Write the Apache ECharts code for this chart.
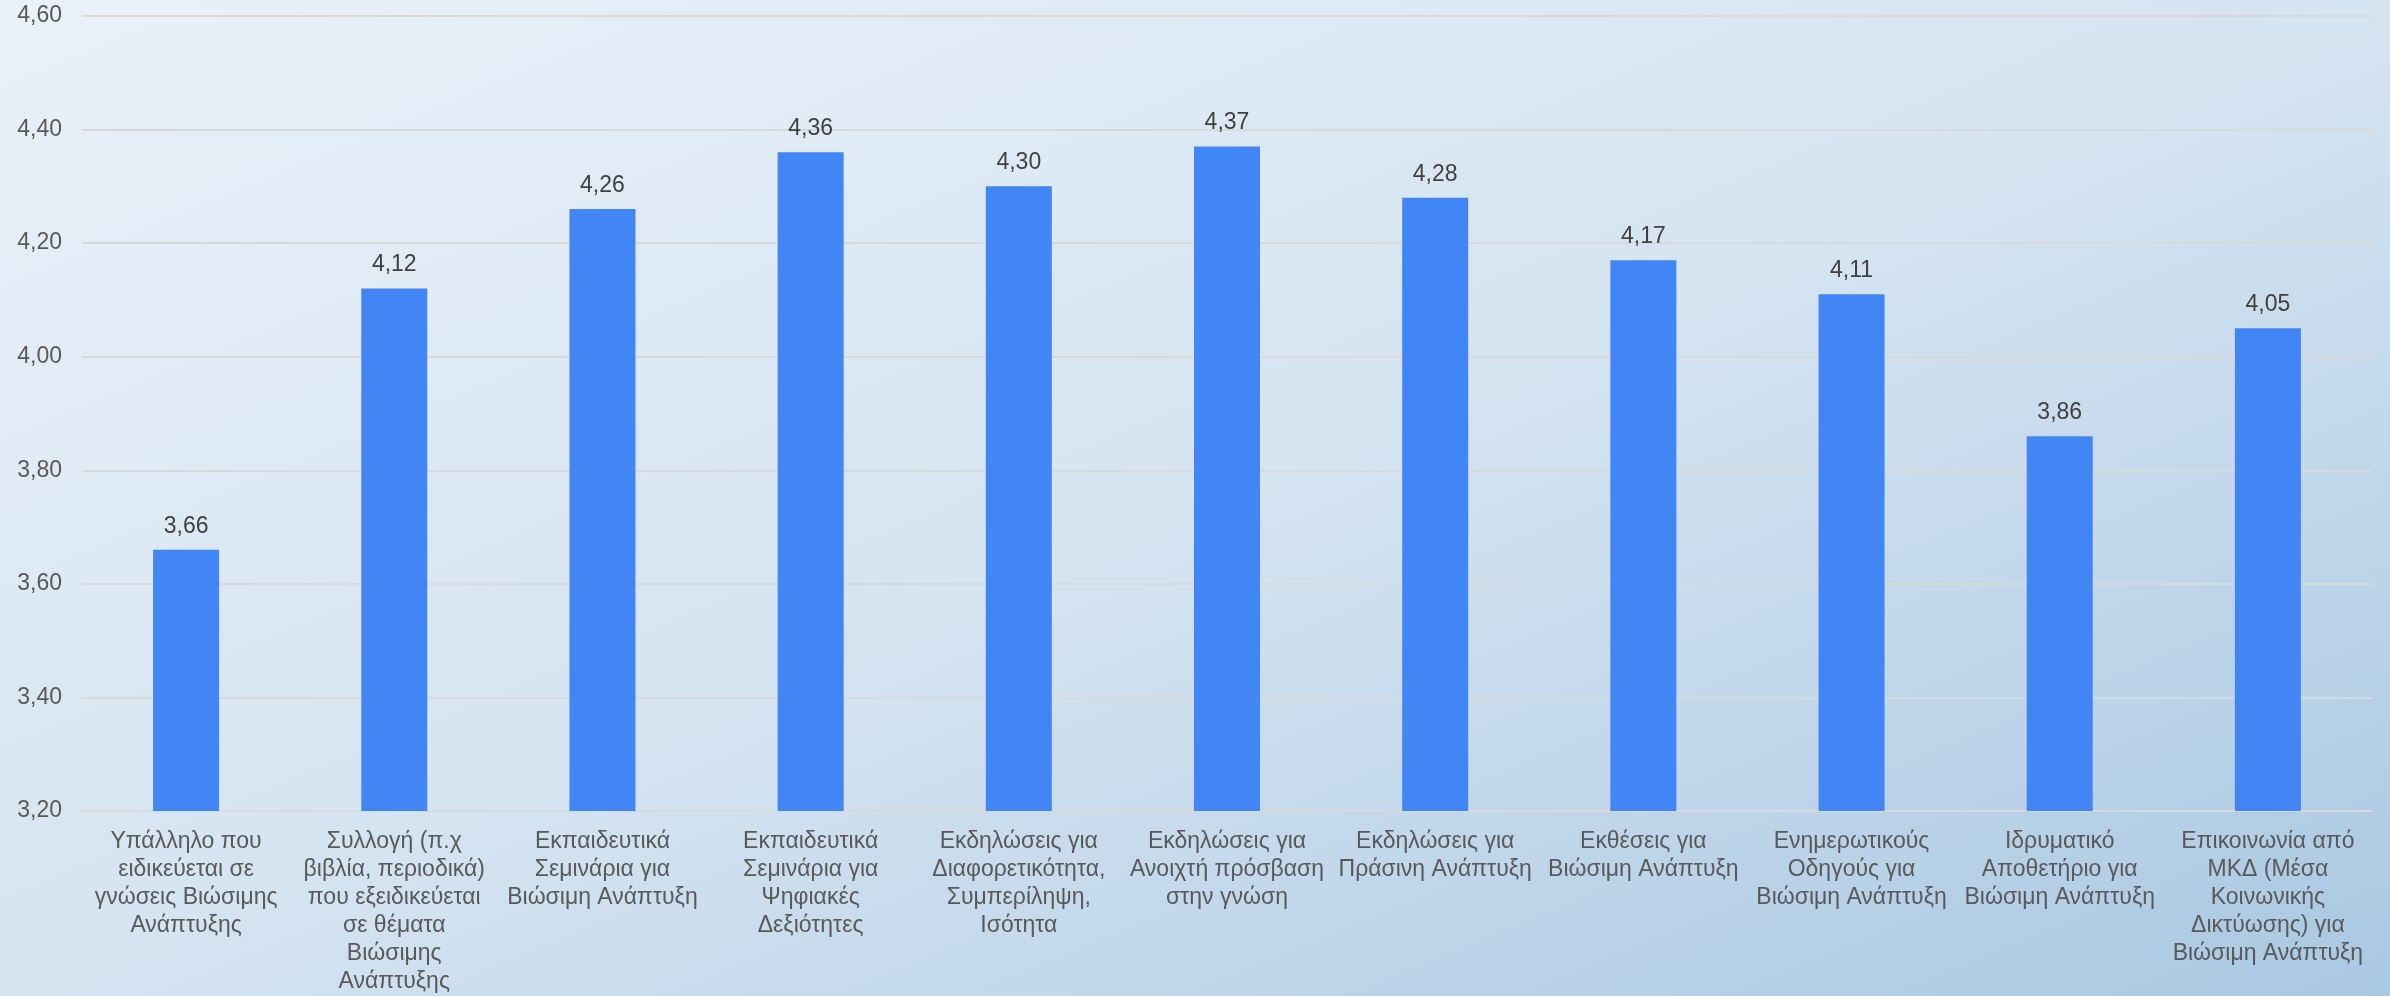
<!DOCTYPE html>
<html>
<head>
<meta charset="utf-8">
<script src="https://cdn.jsdelivr.net/npm/echarts@6/dist/echarts.min.js"></script>
<style>
  html, body { margin: 0; padding: 0; width: 2390px; height: 996px; overflow: hidden; }
  #chart { width: 2390px; height: 996px; background: linear-gradient(to bottom right, #e9f1f9 0%, #d5e4f1 50%, #a9c8e2 100%); }
</style>
</head>
<body>
<div id="chart"></div>
<script>
const categories = [
  "Υπάλληλο που\nειδικεύεται σε\nγνώσεις Βιώσιμης\nΑνάπτυξης",
  "Συλλογή (π.χ\nβιβλία, περιοδικά)\nπου εξειδικεύεται\nσε θέματα\nΒιώσιμης\nΑνάπτυξης",
  "Εκπαιδευτικά\nΣεμινάρια για\nΒιώσιμη Ανάπτυξη",
  "Εκπαιδευτικά\nΣεμινάρια για\nΨηφιακές\nΔεξιότητες",
  "Εκδηλώσεις για\nΔιαφορετικότητα,\nΣυμπερίληψη,\nΙσότητα",
  "Εκδηλώσεις για\nΑνοιχτή πρόσβαση\nστην γνώση",
  "Εκδηλώσεις για\nΠράσινη Ανάπτυξη",
  "Εκθέσεις για\nΒιώσιμη Ανάπτυξη",
  "Ενημερωτικούς\nΟδηγούς για\nΒιώσιμη Ανάπτυξη",
  "Ιδρυματικό\nΑποθετήριο για\nΒιώσιμη Ανάπτυξη",
  "Επικοινωνία από\nΜΚΔ (Μέσα\nΚοινωνικής\nΔικτύωσης) για\nΒιώσιμη Ανάπτυξη"
];
const values = [3.66, 4.12, 4.26, 4.36, 4.30, 4.37, 4.28, 4.17, 4.11, 3.86, 4.05];
const yMin = 3.2, yMax = 4.6, yStep = 0.2;

const fmt = v => Number(v).toFixed(2).replace('.', ',');
const FONT = '"Liberation Sans", Arial, sans-serif';

const chart = echarts.init(document.getElementById('chart'), null, { renderer: 'canvas' });
chart.setOption({
  backgroundColor: 'transparent',
  animation: false,
  grid: { left: 82, right: 18, top: 16, bottom: 182, containLabel: false },
  xAxis: {
    type: 'category',
    data: categories,
    axisTick: { show: false },
    axisLine: { show: true, lineStyle: { color: '#d9d9d9', width: 2 } },
    axisLabel: {
      interval: 0,
      color: '#595959',
      fontFamily: FONT,
      fontSize: 23,
      lineHeight: 28,
      margin: 17,
      align: 'center'
    }
  },
  yAxis: {
    type: 'value',
    min: yMin, max: yMax, interval: yStep,
    axisLine: { show: false },
    axisTick: { show: false },
    splitLine: { lineStyle: { color: '#d9d9d9', width: 2 } },
    axisLabel: {
      formatter: fmt,
      color: '#595959',
      fontFamily: FONT,
      fontSize: 23,
      margin: 20
    }
  },
  series: [{
    type: 'bar',
    data: values,
    barWidth: 66,
    itemStyle: { color: '#4285f4' },
    label: {
      show: true,
      position: 'top',
      distance: 12,
      formatter: p => fmt(p.value),
      color: '#404040',
      fontFamily: FONT,
      fontSize: 23
    }
  }]
});
</script>
</body>
</html>
